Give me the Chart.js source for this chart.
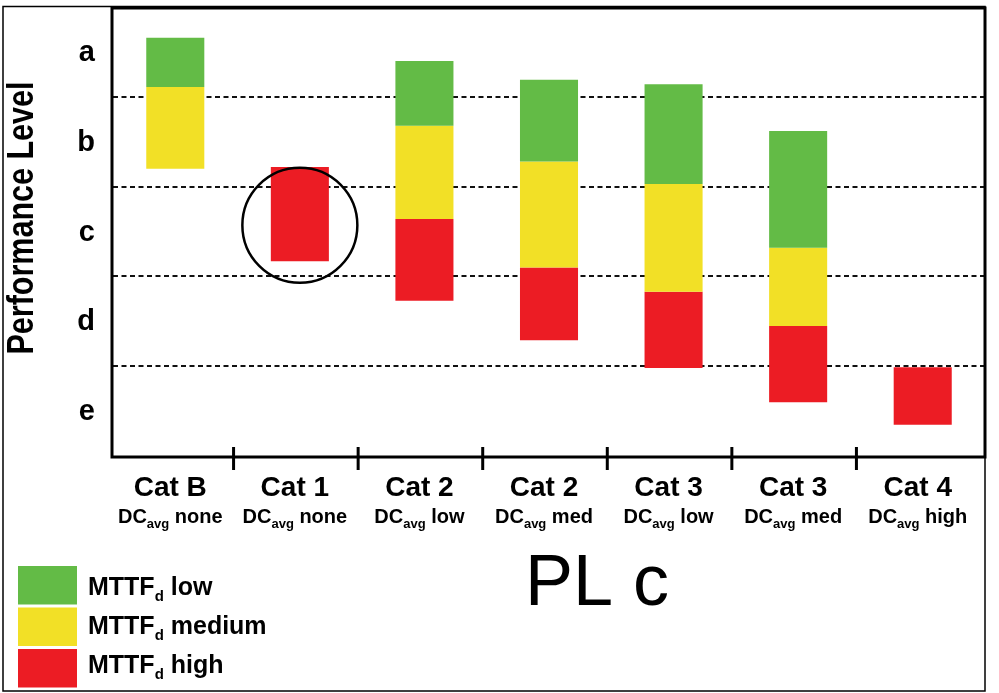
<!DOCTYPE html>
<html>
<head>
<meta charset="utf-8">
<script src="https://cdn.jsdelivr.net/npm/chart.js@4.4.1/dist/chart.umd.min.js"></script>
<style>
  html, body { margin: 0; padding: 0; background: #ffffff; }
  #wrap { width: 999px; height: 693px; }
</style>
</head>
<body>
<div id="wrap"><canvas id="pl" width="999" height="693"></canvas></div>
<script>
// Categories on the x axis: category name and average diagnostic coverage
const catNames = ['Cat B', 'Cat 1', 'Cat 2', 'Cat 2', 'Cat 3', 'Cat 3', 'Cat 4'];
const dcLevels = ['none', 'none', 'low', 'med', 'low', 'med', 'high'];

// Performance levels, top (a) to bottom (e); each level spans one unit
const levelLabels = ['a', 'b', 'c', 'd', 'e'];

// MTTFd series names
const mttfNames = ['low', 'medium', 'high'];

// Floating bar ranges [from, to] in level units (0 = bottom of e, 5 = top of a)
const mttfLow    = [[4.12, 4.67], null, [3.69, 4.41], [3.29, 4.20], [3.04, 4.15], [2.33, 3.63], null];
const mttfMedium = [[3.21, 4.12], null, [2.65, 3.69], [2.11, 3.29], [1.84, 3.04], [1.46, 2.33], null];
const mttfHigh   = [null, [2.18, 3.23], [1.74, 2.65], [1.30, 2.11], [0.99, 1.84], [0.61, 1.46], [0.36, 1.00]];

// Circled category and the level value at the circle's centre
const circledIndex = 1;
const circledCentre = 2.58;

const seriesColors = ['#63bb46', '#f2e026', '#ec1c24'];
const BOLD = '"Liberation Sans", Arial, sans-serif';

// Draw a run of text pieces, some lowered as subscripts, centred or left-aligned at x
function drawRuns(ctx, runs, x, y, align) {
  let total = 0;
  runs.forEach(r => { ctx.font = r.font; r.w = ctx.measureText(r.text).width; total += r.w; });
  let cx = align === 'center' ? x - total / 2 : x;
  ctx.textAlign = 'left';
  ctx.textBaseline = 'alphabetic';
  runs.forEach(r => {
    ctx.font = r.font;
    ctx.fillText(r.text, cx, y + (r.dy || 0));
    cx += r.w;
  });
}

const decorPlugin = {
  id: 'decor',
  beforeDatasetsDraw(chart) {
    const { ctx, chartArea: a, scales: { y } } = chart;
    ctx.save();
    ctx.strokeStyle = '#111';
    ctx.lineWidth = 1.8;
    ctx.setLineDash([5, 3.5]);
    for (let v = 1; v < levelLabels.length; v++) {
      const py = Math.round(y.getPixelForValue(v)) - 1;
      ctx.beginPath();
      ctx.moveTo(a.left, py);
      ctx.lineTo(a.right, py);
      ctx.stroke();
    }
    ctx.restore();
  },
  afterDatasetsDraw(chart) {
    const { ctx, scales: { x, y } } = chart;
    // ring round the highlighted category
    ctx.save();
    ctx.strokeStyle = '#000';
    ctx.lineWidth = 2.5;
    ctx.beginPath();
    ctx.arc(x.getPixelForValue(circledIndex), y.getPixelForValue(circledCentre), 57.5, 0, Math.PI * 2);
    ctx.stroke();
    ctx.restore();
  },
  afterDraw(chart) {
    const { ctx, chartArea: a, scales: { x } } = chart;
    ctx.save();

    // outer frame
    ctx.strokeStyle = '#000';
    ctx.lineWidth = 1.5;
    ctx.strokeRect(3, 6.5, 982, 684.5);

    // plot frame
    ctx.lineWidth = 3;
    ctx.strokeRect(a.left - 1, a.top, a.right - a.left + 1, a.bottom - a.top);

    // tick marks between categories
    ctx.lineWidth = 3;
    const n = catNames.length;
    for (let i = 0; i < n - 1; i++) {
      const px = (x.getPixelForValue(i) + x.getPixelForValue(i + 1)) / 2 - 4;
      ctx.beginPath();
      ctx.moveTo(px, a.bottom - 10);
      ctx.lineTo(px, a.bottom + 13);
      ctx.stroke();
    }

    // category labels
    ctx.fillStyle = '#000';
    for (let i = 0; i < n; i++) {
      const cx = x.getPixelForValue(i) - 5;
      drawRuns(ctx, [{ text: catNames[i], font: 'bold 28px ' + BOLD }], cx, 496, 'center');
      drawRuns(ctx, [
        { text: 'DC', font: 'bold 20px ' + BOLD },
        { text: 'avg', font: 'bold 13px ' + BOLD, dy: 5 },
        { text: ' ' + dcLevels[i], font: 'bold 20px ' + BOLD }
      ], cx, 523, 'center');
    }

    // y axis title, condensed to its printed width
    ctx.save();
    ctx.font = 'bold 36px ' + BOLD;
    const titleText = 'Performance Level';
    const tw = ctx.measureText(titleText).width;
    ctx.translate(23.5, 218);
    ctx.rotate(-Math.PI / 2);
    ctx.scale(273 / tw, 1);
    ctx.textAlign = 'center';
    ctx.textBaseline = 'middle';
    ctx.fillText(titleText, 0, 0);
    ctx.restore();

    // legend
    chart.data.datasets.forEach((ds, i) => {
      ctx.fillStyle = ds.backgroundColor;
      ctx.fillRect(18, 566 + i * 41.5, 59, 38.5);
      ctx.fillStyle = '#000';
      drawRuns(ctx, [
        { text: 'MTTF', font: 'bold 25px ' + BOLD },
        { text: 'd', font: 'bold 15px ' + BOLD, dy: 6 },
        { text: ' ' + mttfNames[i], font: 'bold 25px ' + BOLD }
      ], 88, 595 + i * 39, 'left');
    });

    // required performance level
    ctx.font = '72px ' + BOLD;
    ctx.textAlign = 'left';
    ctx.textBaseline = 'alphabetic';
    ctx.fillText('PL c', 525, 605);

    ctx.restore();
  }
};

new Chart(document.getElementById('pl'), {
  type: 'bar',
  data: {
    labels: catNames,
    datasets: [
      { label: 'MTTFd ' + mttfNames[0], data: mttfLow, backgroundColor: seriesColors[0] },
      { label: 'MTTFd ' + mttfNames[1], data: mttfMedium, backgroundColor: seriesColors[1] },
      { label: 'MTTFd ' + mttfNames[2], data: mttfHigh, backgroundColor: seriesColors[2] }
    ]
  },
  options: {
    responsive: false,
    animation: false,
    devicePixelRatio: 1,
    layout: { padding: { left: 0, top: 8, right: 14, bottom: 0 } },
    datasets: {
      bar: { grouped: false, barPercentage: 0.466, categoryPercentage: 1, borderWidth: 0 }
    },
    plugins: {
      legend: { display: false },
      tooltip: { enabled: false }
    },
    scales: {
      x: {
        type: 'category',
        grid: { display: false },
        border: { display: false },
        ticks: { display: false },
        afterFit(s) { s.height = 236; s.paddingLeft = 0; s.paddingRight = 0; }
      },
      y: {
        min: 0,
        max: levelLabels.length,
        grid: { display: false },
        border: { display: false },
        afterBuildTicks(s) {
          s.ticks = levelLabels.map((_, i) => ({ value: levelLabels.length - 0.5 - i }));
        },
        ticks: {
          autoSkip: false,
          padding: 10,
          color: '#000',
          font: { family: BOLD, weight: 'bold', size: 29 },
          callback: v => levelLabels[Math.round(levelLabels.length - 0.5 - v)]
        },
        afterFit(s) { s.width = 113; s.paddingTop = 0; s.paddingBottom = 0; }
      }
    }
  },
  plugins: [decorPlugin]
});
</script>
</body>
</html>
